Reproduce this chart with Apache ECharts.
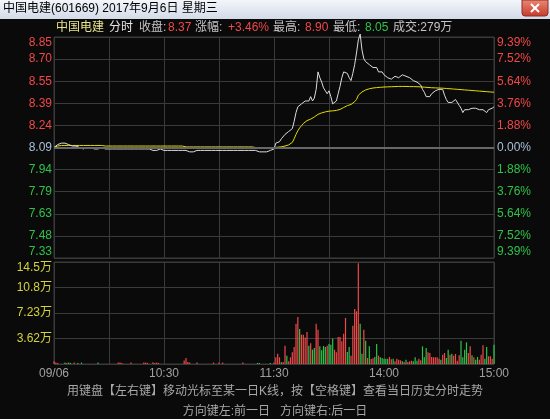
<!DOCTYPE html>
<html>
<head>
<meta charset="utf-8">
<title>中国电建 分时</title>
<script src="https://cdn.jsdelivr.net/npm/echarts@6/dist/echarts.min.js"></script>
<style>
html, body { margin: 0; padding: 0; background: #0a0a0a; }
#chart { width: 550px; height: 419px; }
</style>
</head>
<body>
<div id="chart"></div>
<script>
const prevClose = 8.09;
const priceMin = 7.33;
const priceMax = 8.85;
const volMax = 14.462;

// 09:30 - 11:30 (121 minutes)
const priceAM = [
  8.09, 8.10, 8.11, 8.11, 8.12, 8.11, 8.12, 8.11, 8.11, 8.10,
  8.10, 8.09, 8.10, 8.09, 8.09, 8.09, 8.08, 8.09, 8.09, 8.08,
  8.09, 8.09, 8.08, 8.09, 8.08, 8.08, 8.09, 8.08, 8.08, 8.08,
  8.08, 8.08, 8.08, 8.08, 8.08, 8.08, 8.08, 8.08, 8.08, 8.08,
  8.08, 8.08, 8.08, 8.08, 8.08, 8.08, 8.08, 8.08, 8.08, 8.08,
  8.08, 8.08, 8.08, 8.07, 8.07, 8.07, 8.07, 8.07, 8.08, 8.08,
  8.07, 8.08, 8.07, 8.07, 8.07, 8.07, 8.07, 8.07, 8.07, 8.07,
  8.07, 8.07, 8.07, 8.07, 8.06, 8.06, 8.06, 8.07, 8.07, 8.07,
  8.07, 8.07, 8.07, 8.07, 8.07, 8.07, 8.07, 8.07, 8.07, 8.07,
  8.07, 8.07, 8.07, 8.07, 8.07, 8.07, 8.07, 8.07, 8.07, 8.07,
  8.07, 8.07, 8.07, 8.07, 8.07, 8.07, 8.07, 8.07, 8.07, 8.07,
  8.07, 8.07, 8.06, 8.06, 8.06, 8.07, 8.06, 8.07, 8.07, 8.07,
  8.08
];
// 13:01 - 15:00 (120 minutes)
const pricePM = [
  8.12, 8.13, 8.13, 8.15, 8.16, 8.18, 8.17, 8.20, 8.21, 8.22,
  8.27, 8.33, 8.37, 8.38, 8.39, 8.40, 8.41, 8.42, 8.41, 8.44,
  8.41, 8.43, 8.49, 8.61, 8.57, 8.54, 8.50, 8.48, 8.46, 8.48,
  8.44, 8.39, 8.38, 8.41, 8.46, 8.51, 8.57, 8.61, 8.62, 8.60,
  8.57, 8.55, 8.60, 8.66, 8.74, 8.83, 8.87, 8.76, 8.70, 8.68,
  8.69, 8.66, 8.67, 8.64, 8.65, 8.64, 8.61, 8.62, 8.61, 8.59,
  8.58, 8.57, 8.57, 8.56, 8.57, 8.58, 8.58, 8.57, 8.58, 8.59,
  8.58, 8.58, 8.57, 8.57, 8.56, 8.55, 8.54, 8.54, 8.53, 8.52,
  8.49, 8.47, 8.44, 8.43, 8.44, 8.46, 8.47, 8.48, 8.49, 8.49,
  8.48, 8.49, 8.45, 8.42, 8.40, 8.41, 8.40, 8.41, 8.42, 8.41,
  8.38, 8.36, 8.33, 8.35, 8.36, 8.35, 8.35, 8.36, 8.35, 8.36,
  8.35, 8.35, 8.36, 8.35, 8.34, 8.33, 8.35, 8.34, 8.36, 8.37
];

const avgAM = [
  8.090, 8.096, 8.100, 8.103, 8.104, 8.104, 8.104, 8.104, 8.104, 8.104,
  8.104, 8.104, 8.104, 8.104, 8.104, 8.104, 8.104, 8.104, 8.104, 8.104,
  8.104, 8.104, 8.104, 8.104, 8.104, 8.104, 8.104, 8.100, 8.100, 8.100,
  8.100, 8.100, 8.100, 8.100, 8.100, 8.100, 8.100, 8.100, 8.100, 8.100,
  8.100, 8.100, 8.100, 8.100, 8.100, 8.100, 8.100, 8.100, 8.100, 8.100,
  8.100, 8.100, 8.100, 8.100, 8.100, 8.100, 8.100, 8.100, 8.100, 8.100,
  8.100, 8.100, 8.100, 8.100, 8.100, 8.100, 8.100, 8.100, 8.100, 8.100,
  8.100, 8.100, 8.094, 8.094, 8.094, 8.094, 8.094, 8.094, 8.094, 8.094,
  8.094, 8.094, 8.094, 8.094, 8.094, 8.094, 8.094, 8.094, 8.094, 8.094,
  8.094, 8.094, 8.094, 8.094, 8.094, 8.094, 8.094, 8.094, 8.094, 8.094,
  8.094, 8.094, 8.094, 8.094, 8.094, 8.094, 8.094, 8.094, 8.094, 8.090,
  8.090, 8.090, 8.090, 8.090, 8.090, 8.090, 8.090, 8.090, 8.090, 8.090,
  8.090
];
const avgPM = [
  8.091, 8.092, 8.093, 8.095, 8.097, 8.100, 8.104, 8.108, 8.113, 8.125,
  8.150, 8.180, 8.205, 8.225, 8.240, 8.255, 8.265, 8.275, 8.280, 8.285,
  8.290, 8.300, 8.310, 8.318, 8.324, 8.328, 8.332, 8.335, 8.338, 8.340,
  8.341, 8.342, 8.343, 8.345, 8.348, 8.352, 8.358, 8.365, 8.372, 8.378,
  8.382, 8.386, 8.392, 8.405, 8.420, 8.450, 8.462, 8.472, 8.480, 8.486,
  8.490, 8.494, 8.497, 8.499, 8.500, 8.502, 8.503, 8.504, 8.505, 8.506,
  8.507, 8.507, 8.508, 8.508, 8.509, 8.509, 8.510, 8.510, 8.510, 8.510,
  8.510, 8.510, 8.510, 8.509, 8.509, 8.509, 8.508, 8.508, 8.507, 8.507,
  8.506, 8.505, 8.504, 8.503, 8.502, 8.501, 8.500, 8.500, 8.499, 8.499,
  8.498, 8.498, 8.497, 8.496, 8.495, 8.494, 8.493, 8.492, 8.491, 8.490,
  8.489, 8.488, 8.487, 8.486, 8.485, 8.484, 8.483, 8.482, 8.481, 8.480,
  8.479, 8.478, 8.477, 8.476, 8.475, 8.474, 8.473, 8.472, 8.471, 8.470
];

// volume in 万
const volAM = [
  0.38, 0.2, 0.15, 0, 0, 0, 0.2, 0.15, 0.2, 0.15,
  0, 0.2, 0, 0.15, 0, 0.2, 0, 0, 0, 0,
  0, 0, 0, 0, 0.2, 0, 0, 0, 0, 0,
  0, 0, 0, 0, 0, 0.2, 0.2, 0.15, 0, 0,
  0, 0, 0.2, 0, 0, 0, 0, 0, 0, 0.2,
  0.2, 0.15, 0, 0, 0.25, 0.15, 0.2, 0.15, 0, 0,
  0, 0, 0, 0, 0, 0, 0, 0, 0, 0,
  0, 0.5, 0.85, 0.3, 0.2, 0, 0, 0, 0.2, 0,
  0, 0, 0, 0, 0, 0, 0, 0.2, 0, 0,
  0.2, 0, 0.2, 0, 0, 0, 0, 0, 0, 0,
  0, 0, 0, 0.2, 0, 0, 0, 0, 0, 0,
  0, 0.15, 0.15, 0, 0, 0, 0, 0, 0.14, 0,
  0.2
];
const volPM = [
  0.95, 1.47, 0.95, 0.24, 0.3, 2.6, 1.18, 0.38, 0.95, 1.66,
  2.41, 5.72, 6.67, 4.97, 4.16, 4.16, 3.74, 4.54, 2.6, 2.93,
  2.03, 2.27, 5.72, 4.87, 2.5, 1.94, 2.55, 2.41, 2.6, 2.84,
  2.74, 3.6, 2.03, 1.66, 3.83, 3.83, 3.22, 4.3, 6.53, 1.7,
  2.41, 1.18, 5.44, 7.8, 7.47, 14.3, 5.72, 1.47, 4.87, 3.31,
  0.85, 2.5, 0.71, 0.8, 1.0, 2.84, 1.18, 0.95, 0.85, 0.76,
  0.76, 0.76, 1.0, 0.66, 0.76, 0.38, 0.76, 0.61, 0.52, 0.38,
  0.28, 0.61, 0.28, 0.38, 0.47, 0.38, 0.95, 0.47, 0.76, 0.52,
  2.5, 0.95, 2.27, 1.66, 1.56, 1.0, 0.95, 0.95, 0.95, 0.76,
  0.61, 1.32, 1.56, 0.85, 2.03, 1.32, 1.47, 1.18, 1.42, 0.47,
  1.23, 3.31, 0.95, 2.03, 3.07, 1.56, 2.5, 1.23, 0.95, 0.61,
  1.0, 0.61, 1.32, 2.65, 0.76, 2.41, 1.09, 1.09, 0.76, 2.74
];
// minutes whose volume bar is green (price fell)
const downIdx = [
  6, 8, 9, 13, 15, 24, 111, 112, 118,
  124, 127, 134, 139, 141, 142, 145, 146, 147, 148, 150, 151, 152, 160, 161,
  167, 168, 170, 172, 175, 176, 178, 179, 180, 181, 182, 185, 190, 192, 196,
  197, 198, 201, 202, 203, 211, 214, 215, 217, 222, 223, 224, 225, 228, 230,
  231, 235, 236, 240
];

const tickIdx = [0, 60, 120, 180, 240];
const tickLabels = ['09/06', '10:30', '11:30', '14:00', '15:00'];

const upColor = '#f04848';
const downColor = '#2fc24a';
const flatColor = '#a9bfd9';
const gridColor = '#3a3a3a';
const textGray = '#c4c4c4';
const font = '"Liberation Sans", "Noto Sans CJK SC", sans-serif';

// minute categories
const times = [];
function pad(n) { return (n < 10 ? '0' : '') + n; }
for (let t = 9 * 60 + 30; t <= 11 * 60 + 30; t++) times.push(pad(Math.floor(t / 60)) + ':' + pad(t % 60));
for (let t = 13 * 60 + 1; t <= 15 * 60; t++) times.push(pad(Math.floor(t / 60)) + ':' + pad(t % 60));

const price = priceAM.concat(pricePM);
const avg = avgAM.concat(avgPM);
const vol = volAM.concat(volPM).map((v, i) => ({
  value: v,
  itemStyle: { color: downIdx.indexOf(i) >= 0 ? downColor : upColor }
}));

function levelColor(v) {
  v = parseFloat(v);
  if (Math.abs(v - prevClose) < 0.005) return flatColor;
  return v > prevClose ? upColor : downColor;
}

function txt(text, x, y, fill, align) {
  return {
    type: 'text', x: x, y: y, silent: true,
    style: {
      text: text, fill: fill, font: '12px ' + font,
      align: align || 'left', verticalAlign: 'middle',
      textAlign: align || 'left', textVerticalAlign: 'middle'
    }
  };
}

const myChart = echarts.init(document.getElementById('chart'));
const option = {
  backgroundColor: '#0a0a0a',
  animation: false,
  graphic: {
    elements: [
      {
        type: 'rect', silent: true,
        shape: { x: 0, y: 0, width: 550, height: 19 },
        style: {
          fill: new echarts.graphic.LinearGradient(0, 0, 0, 1, [
            { offset: 0, color: '#f3f6fb' },
            { offset: 1, color: '#d3dbe8' }
          ])
        }
      },
      txt('中国电建(601669) 2017年9月6日 星期三', 3, 9, '#000'),
      {
        type: 'rect', silent: true,
        shape: { x: 522, y: 0, width: 26, height: 16, r: [0, 0, 3, 3] },
        style: {
          fill: new echarts.graphic.LinearGradient(0, 0, 0, 1, [
            { offset: 0, color: '#eb8a76' },
            { offset: 1, color: '#c5392a' }
          ]),
          stroke: '#8a3026', lineWidth: 1
        }
      },
      { type: 'line', silent: true, shape: { x1: 531, y1: 4, x2: 539, y2: 12 }, style: { stroke: '#fff', lineWidth: 2 } },
      { type: 'line', silent: true, shape: { x1: 539, y1: 4, x2: 531, y2: 12 }, style: { stroke: '#fff', lineWidth: 2 } },

      // header line
      txt('中国电建', 56, 28, '#e8e28c'),
      txt('分时', 109, 28, '#e6e6e6'),
      txt('收盘:', 139, 28, textGray),
      txt('8.37', 168, 28, upColor),
      txt('涨幅:', 195, 28, textGray),
      txt('+3.46%', 228, 28, upColor),
      txt('最高:', 273, 28, textGray),
      txt('8.90', 305, 28, upColor),
      txt('最低:', 333, 28, textGray),
      txt('8.05', 365, 28, downColor),
      txt('成交:279万', 393, 28, textGray),

      // footer hints
      txt('用键盘【左右键】移动光标至某一日K线，按【空格键】查看当日历史分时走势', 275, 392, '#a8a8a8', 'center'),
      txt('方向键左:前一日   方向键右:后一日', 275, 412, '#a8a8a8', 'center')
    ]
  },
  grid: [
    { left: 54, top: 37, width: 440, height: 221, show: true, borderColor: gridColor, borderWidth: 1 },
    { left: 54, top: 262, width: 440, height: 102, show: true, borderColor: gridColor, borderWidth: 1 }
  ],
  xAxis: [
    {
      type: 'category', gridIndex: 0, data: times, boundaryGap: false,
      axisLine: { show: false }, axisTick: { show: false }, axisLabel: { show: false },
      splitLine: { show: true, interval: (i) => i % 30 === 0, lineStyle: { color: gridColor } }
    },
    {
      type: 'category', gridIndex: 1, data: times, boundaryGap: false,
      axisLine: { show: false }, axisTick: { show: false },
      axisLabel: {
        interval: (i) => tickIdx.indexOf(i) >= 0,
        formatter: (v, i) => tickLabels[tickIdx.indexOf(i)] || '',
        color: '#a0a0a0', fontSize: 12, fontFamily: font, margin: 4
      },
      splitLine: { show: true, interval: (i) => i % 30 === 0, lineStyle: { color: gridColor } }
    }
  ],
  yAxis: [
    {
      type: 'value', gridIndex: 0, position: 'left',
      min: priceMin, max: priceMax, interval: 0.152,
      axisLine: { show: false }, axisTick: { show: false },
      splitLine: { lineStyle: { color: gridColor } },
      axisLabel: {
        formatter: (v) => v.toFixed(2),
        color: levelColor, fontSize: 12, fontFamily: font, margin: 2,
        verticalAlignMinLabel: 'bottom', verticalAlignMaxLabel: 'top'
      }
    },
    {
      type: 'value', gridIndex: 0, position: 'right',
      min: priceMin, max: priceMax, interval: 0.152,
      axisLine: { show: false }, axisTick: { show: false }, splitLine: { show: false },
      axisLabel: {
        formatter: (v) => (Math.abs(v - prevClose) / prevClose * 100).toFixed(2) + '%',
        color: levelColor, fontSize: 12, fontFamily: font, margin: 3,
        verticalAlignMinLabel: 'bottom', verticalAlignMaxLabel: 'top'
      }
    },
    {
      type: 'value', gridIndex: 1, position: 'left',
      min: 0, max: volMax, interval: volMax / 4,
      axisLine: { show: false }, axisTick: { show: false },
      splitLine: { lineStyle: { color: gridColor } },
      axisLabel: {
        showMinLabel: false,
        formatter: (v) => v.toPrecision(3) + '万',
        color: '#d6d23a', fontSize: 12, fontFamily: font, margin: 2,
        verticalAlignMaxLabel: 'top'
      }
    }
  ],
  series: [
    {
      name: '均价', type: 'line', xAxisIndex: 0, yAxisIndex: 0,
      data: avg, symbol: 'none', z: 3,
      lineStyle: { color: '#e2dc00', width: 1 },
      markLine: {
        silent: true, symbol: ['none', 'none'], label: { show: false },
        lineStyle: { color: '#676767', width: 2, type: 'solid' },
        data: [{ yAxis: prevClose }]
      }
    },
    {
      name: '价格', type: 'line', xAxisIndex: 0, yAxisIndex: 0,
      data: price, symbol: 'none', clip: false, z: 4,
      lineStyle: { color: '#dcdcdc', width: 1 }
    },
    {
      name: '成交量', type: 'bar', xAxisIndex: 1, yAxisIndex: 2,
      data: vol, barWidth: 1.2
    }
  ]
};
myChart.setOption(option);
</script>
</body>
</html>
